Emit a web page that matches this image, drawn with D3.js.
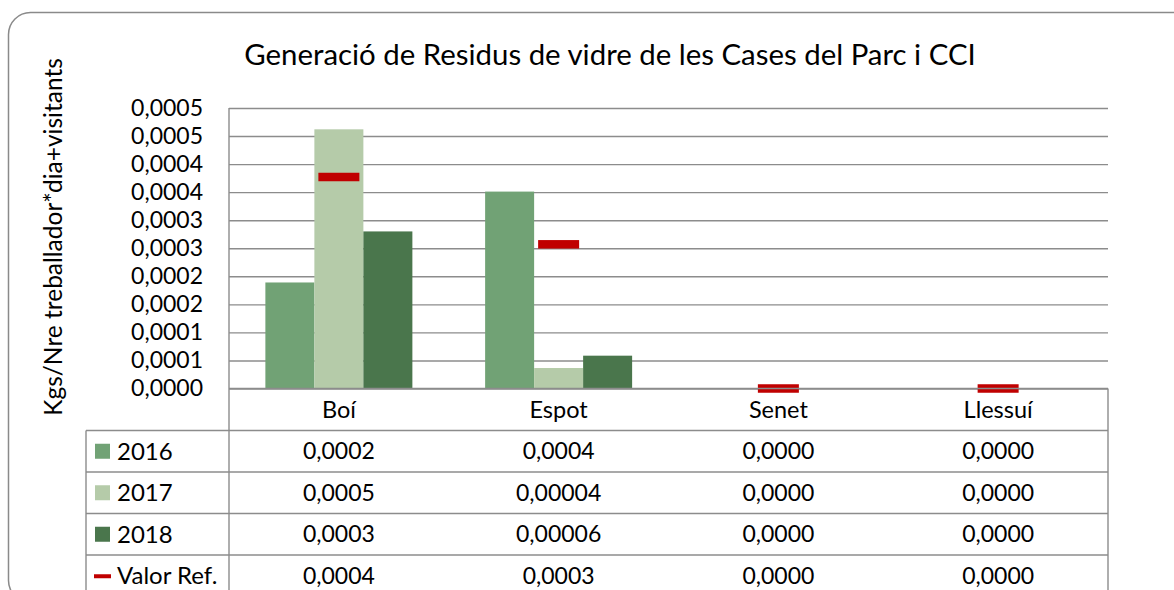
<!DOCTYPE html>
<html>
<head>
<meta charset="utf-8">
<script src="https://cdn.jsdelivr.net/npm/d3@7"></script>
<style>
  html, body { margin: 0; padding: 0; background: #fff; }
  svg { display: block; font-family: Lato, "Open Sans", sans-serif; }
</style>
</head>
<body>
<svg id="chart" width="1174" height="590"></svg>
<script>
// Glass waste per worker*day+visitors for each park house
const categories = ["Boí", "Espot", "Senet", "Llessuí"];
const series = ["2016", "2017", "2018"];
const values2016 = [0.000189, 0.000351, 0, 0];
const values2017 = [0.000462, 0.0000365, 0, 0];
const values2018 = [0.000280, 0.0000585, 0, 0];
const refValues = [0.000377, 0.000257, 0, 0];
const refName = "Valor Ref.";
const seriesColors = ["#71a275", "#b5cba9", "#4a764c"];
const refColor = "#c00000";
const yTickValues = [0, 0.00005, 0.0001, 0.00015, 0.0002, 0.00025, 0.0003, 0.00035, 0.0004, 0.00045, 0.0005];
const yTickLabels = ["0,0000", "0,0001", "0,0001", "0,0002", "0,0002", "0,0003", "0,0003", "0,0004", "0,0004", "0,0005", "0,0005"];
const titleText = "Generació de Residus de vidre de les Cases del Parc i CCI";
const yAxisTitle = "Kgs/Nre treballador*dia+visitants";

const seriesValues = [values2016, values2017, values2018];

const svg = d3.select("#chart");
const plot = { left: 229, right: 1108, top: 108, bottom: 388.5 };
const table = { left: 86, rowH: 41.5, catBottom: 430.5 };
const textSize = 23;
const textColor = "#000";

const locale = d3.formatLocale({ decimal: ",", thousands: ".", grouping: [3], currency: ["", "€"] });
const f4 = locale.format(".4f");
const f5 = locale.format(".5f");
const fmt = v => (v > 0 && v < 0.0001) ? f5(v) : f4(v);

// outer frame
svg.append("rect")
  .attr("x", 8.5).attr("y", 12.5)
  .attr("width", 1190).attr("height", 590)
  .attr("rx", 22).attr("ry", 22)
  .attr("fill", "#fff").attr("stroke", "#8a8a8a").attr("stroke-width", 1.5);

// title
svg.append("text")
  .attr("x", 610).attr("y", 65)
  .attr("text-anchor", "middle")
  .attr("font-size", 29.4)
  .attr("fill", textColor)
  .text(titleText);

// scales
const x = d3.scaleBand().domain(categories).range([plot.left, plot.right]).padding(0);
const barW = 49;
const groupPad = (x.bandwidth() - barW * series.length) / 2;
const xs = d3.scaleBand().domain(series).range([groupPad, x.bandwidth() - groupPad]).padding(0);
const y = d3.scaleLinear().domain([0, 0.0005]).range([plot.bottom, plot.top]);

// gridlines
const grid = svg.append("g")
  .attr("transform", `translate(${plot.left},0)`)
  .call(d3.axisLeft(y).tickValues(yTickValues).tickSize(-(plot.right - plot.left)).tickFormat(""));
grid.select(".domain").remove();
grid.selectAll("line").attr("stroke", "#8c8c8c").attr("stroke-width", 1.4);

// y tick labels
const yAxis = svg.append("g")
  .attr("transform", `translate(${plot.left},0)`)
  .call(d3.axisLeft(y).tickValues(yTickValues).tickSize(0).tickPadding(26)
    .tickFormat((d, i) => yTickLabels[i]));
yAxis.select(".domain").remove();
yAxis.selectAll("text")
  .attr("font-family", "Lato, 'Open Sans', sans-serif")
  .attr("font-size", textSize)
  .attr("fill", textColor);

// y axis title
svg.append("text")
  .attr("transform", `translate(62,237) rotate(-90)`)
  .attr("text-anchor", "middle")
  .attr("font-size", 24.5)
  .attr("fill", textColor)
  .text(yAxisTitle);

// bars
const groups = svg.append("g").selectAll("g")
  .data(categories)
  .join("g")
  .attr("transform", d => `translate(${x(d)},0)`);

groups.selectAll("rect")
  .data((c, ci) => series.map((s, si) => ({ s, si, v: seriesValues[si][ci] })))
  .join("rect")
  .attr("x", d => xs(d.s))
  .attr("width", xs.bandwidth())
  .attr("y", d => y(d.v))
  .attr("height", d => y(0) - y(d.v))
  .attr("fill", d => seriesColors[d.si]);

// reference markers
const refW = 41, refH = 8.5;
svg.append("g").selectAll("rect")
  .data(categories.map((c, i) => ({ c, v: refValues[i] })))
  .join("rect")
  .attr("x", d => x(d.c) + x.bandwidth() / 2 - refW / 2)
  .attr("y", d => y(d.v) - refH / 2)
  .attr("width", refW)
  .attr("height", refH)
  .attr("fill", refColor);

// data table
const tableLines = svg.append("g").attr("stroke", "#8c8c8c").attr("stroke-width", 1.4);
const rowNames = series.concat([refName]);
const rowValues = seriesValues.concat([refValues]);
const rowTop = i => table.catBottom + i * table.rowH;
const tableBottom = 600;

// horizontal rules
tableLines.append("line")
  .attr("x1", plot.left).attr("x2", plot.right)
  .attr("y1", y(0)).attr("y2", y(0));
tableLines.selectAll("line.row")
  .data(d3.range(rowNames.length))
  .join("line").attr("class", "row")
  .attr("x1", table.left).attr("x2", plot.right)
  .attr("y1", i => rowTop(i)).attr("y2", i => rowTop(i));
// vertical rules
tableLines.append("line")
  .attr("x1", plot.left).attr("x2", plot.left)
  .attr("y1", plot.top).attr("y2", tableBottom);
tableLines.append("line")
  .attr("x1", table.left).attr("x2", table.left)
  .attr("y1", table.catBottom).attr("y2", tableBottom);
tableLines.append("line")
  .attr("x1", plot.right).attr("x2", plot.right)
  .attr("y1", y(0)).attr("y2", tableBottom);

// category labels
svg.append("g").selectAll("text")
  .data(categories)
  .join("text")
  .attr("x", d => x(d) + x.bandwidth() / 2)
  .attr("y", (y(0) + table.catBottom) / 2)
  .attr("dy", "0.35em")
  .attr("text-anchor", "middle")
  .attr("font-size", 23.5)
  .attr("fill", textColor)
  .text(d => d);

// rows: legend key + values
const rows = svg.append("g").selectAll("g")
  .data(rowNames.map((name, i) => ({ name, i, vals: rowValues[i] })))
  .join("g")
  .attr("transform", d => `translate(0,${rowTop(d.i) + table.rowH / 2})`);

rows.filter(d => d.i < series.length)
  .append("rect")
  .attr("x", 95).attr("y", -7.5)
  .attr("width", 15).attr("height", 15)
  .attr("fill", d => seriesColors[d.i]);

rows.filter(d => d.i === series.length)
  .append("rect")
  .attr("x", 94).attr("y", -1.5)
  .attr("width", 17).attr("height", 4)
  .attr("fill", refColor);

rows.append("text")
  .attr("x", 117)
  .attr("dy", "0.35em")
  .attr("font-size", 24)
  .attr("fill", textColor)
  .text(d => d.name);

rows.selectAll("text.val")
  .data(d => d.vals.map((v, ci) => ({ v, c: categories[ci] })))
  .join("text").attr("class", "val")
  .attr("x", d => x(d.c) + x.bandwidth() / 2)
  .attr("dy", "0.35em")
  .attr("text-anchor", "middle")
  .attr("font-size", textSize)
  .attr("fill", textColor)
  .text(d => fmt(d.v));
</script>
</body>
</html>
